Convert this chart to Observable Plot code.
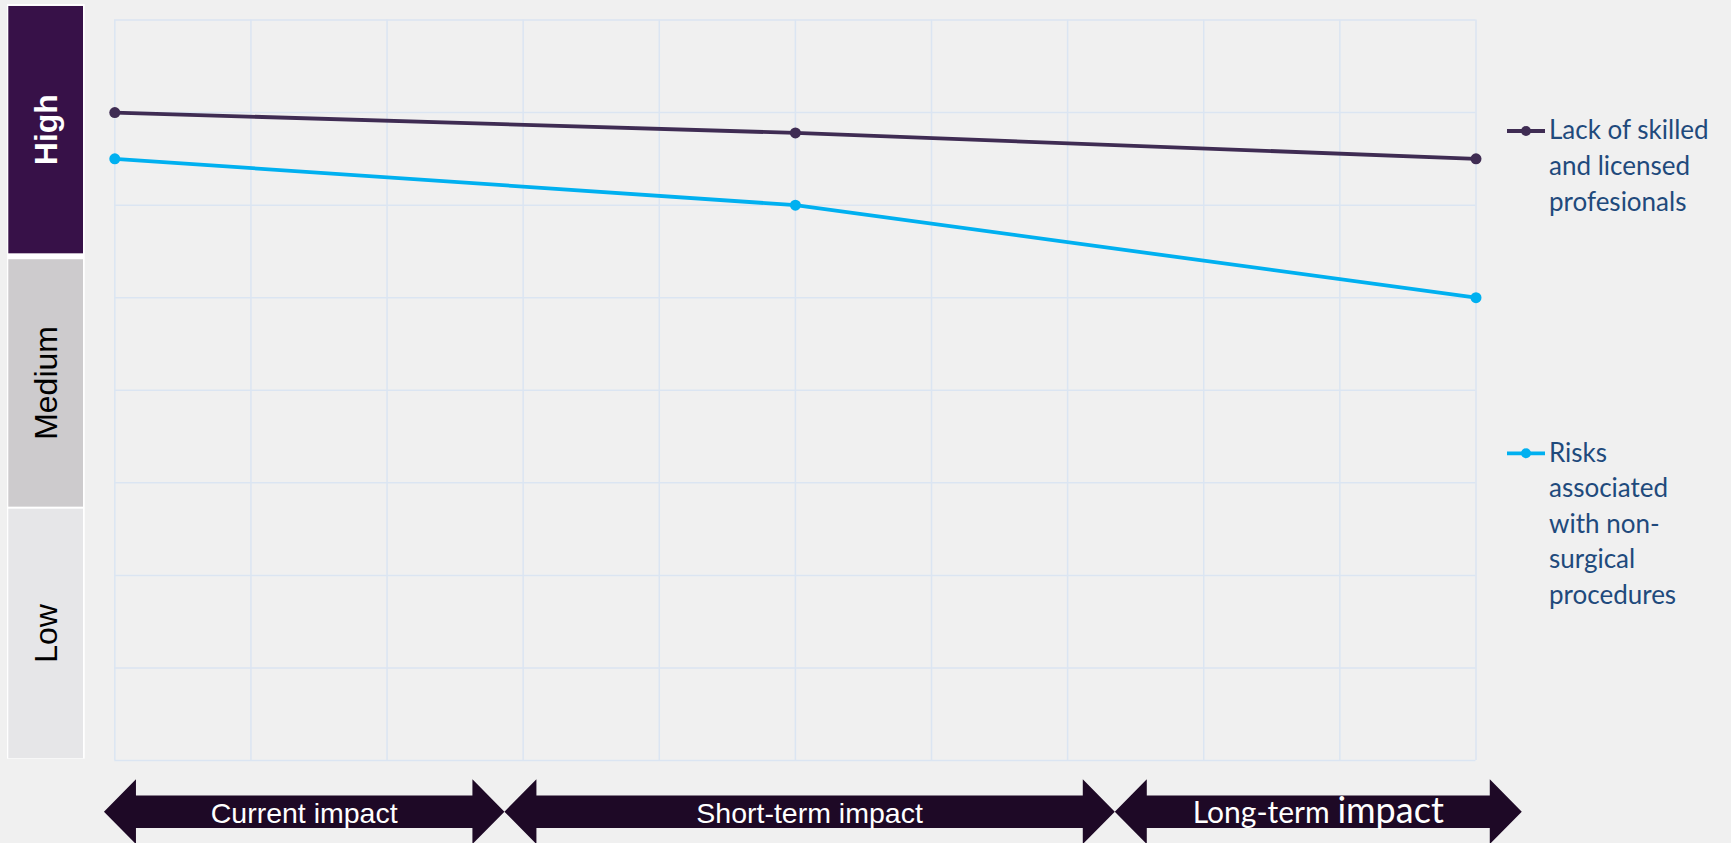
<!DOCTYPE html>
<html><head><meta charset="utf-8">
<script src="https://cdn.jsdelivr.net/npm/d3@7"></script>
<script src="https://cdn.jsdelivr.net/npm/@observablehq/plot@0.6"></script>
<style>html,body{margin:0;padding:0;background:#f0f0f0;overflow:hidden;}</style>
</head><body><div id="chart"></div>
<script>
// ---- data ----
const periods = [0, 5, 10];
const seriesNames = ["Lack of skilled and licensed profesionals", "Risks associated with non-surgical procedures"];
const legendLines = [["Lack of skilled", "and licensed", "profesionals"], ["Risks", "associated", "with non-", "surgical", "procedures"]];
const skilledValues = [7.0, 6.78, 6.5];
const risksValues = [6.5, 6.0, 5.0];
const xTicks = [0, 1, 2, 3, 4, 5, 6, 7, 8, 9, 10];
const yTicks = [0, 1, 2, 3, 4, 5, 6, 7, 8];
const levels = ["Low", "Medium", "High"];
const levelFrom = [0.02, 2.737, 5.474];
const levelTo = [2.715, 5.41, 8.146];
const phases = ["Current impact", "Short-term impact", "Long-term impact"];
const phaseFrom = [-0.076, 2.866, 7.35];
const phaseTo = [2.866, 7.35, 10.34];

// ---- styles ----
const seriesColors = ["#3f2c53", "#00b0f0"];
const levelFills = ["#e6e6e8", "#cdcbcd", "#371148"];
const levelText = ["#000000", "#000000", "#ffffff"];
const gridColor = "#dbe5f2";
const arrowColor = "#1e0926";

const rows = [];
periods.forEach((p, i) => {
  rows.push({x: p, value: skilledValues[i], series: seriesNames[0]});
  rows.push({x: p, value: risksValues[i], series: seriesNames[1]});
});

function levelBoxes(index, scales, values, dims) {
  const g = d3.create("svg:g");
  const x0 = 8.3, x1 = 83;
  g.append("rect").attr("x", x0 - 1.3).attr("width", x1 - x0 + 3)
    .attr("y", scales.y(levelTo[2]) - 2).attr("height", scales.y(levelFrom[0]) - scales.y(levelTo[2]) + 2.5)
    .attr("fill", "#ffffff");
  levels.forEach((lv, i) => {
    const yt = scales.y(levelTo[i]), yb = scales.y(levelFrom[i]);
    g.append("rect").attr("x", x0).attr("width", x1 - x0).attr("y", yt).attr("height", yb - yt).attr("fill", levelFills[i]);
    g.append("text")
      .attr("transform", `translate(${(x0 + x1) / 2},${(yt + yb) / 2}) rotate(-90)`)
      .attr("text-anchor", "middle").attr("dominant-baseline", "central")
      .attr("font-family", "'Liberation Sans', Arial, sans-serif")
      .attr("font-size", 32).attr("font-weight", lv === "High" ? "bold" : "normal")
      .attr("fill", levelText[i]).text(lv);
  });
  return g.node();
}

function phaseArrows(index, scales, values, dims) {
  const g = d3.create("svg:g");
  const cy = dims.height - dims.marginBottom + 51.7;
  const hl = 32, hh = 32.4, sh = 16.3;
  phases.forEach((ph, i) => {
    const a = scales.x(phaseFrom[i]), b = scales.x(phaseTo[i]);
    const pts = [[a, cy], [a + hl, cy - hh], [a + hl, cy - sh], [b - hl, cy - sh], [b - hl, cy - hh], [b, cy],
      [b - hl, cy + hh], [b - hl, cy + sh], [a + hl, cy + sh], [a + hl, cy + hh]];
    g.append("polygon").attr("points", pts.map(p => p.join(",")).join(" ")).attr("fill", arrowColor);
    const t = g.append("text").attr("x", (a + b) / 2).attr("y", cy + 11).attr("text-anchor", "middle").attr("fill", "#ffffff");
    if (ph === "Long-term impact") {
      t.attr("font-family", "Lato, sans-serif");
      t.append("tspan").attr("font-size", 30).text("Long-term ");
      t.append("tspan").attr("font-size", 36).text("impact");
    } else {
      t.attr("font-family", "'Liberation Sans', Arial, sans-serif").attr("font-size", 28.5).text(ph);
    }
  });
  return g.node();
}

function legend(index, scales, values, dims) {
  const g = d3.create("svg:g");
  const markerY = [131, 453.3];
  seriesNames.forEach((s, i) => {
    const my = markerY[i];
    g.append("line").attr("x1", 1507).attr("x2", 1545).attr("y1", my).attr("y2", my)
      .attr("stroke", seriesColors[i]).attr("stroke-width", 3.8);
    g.append("circle").attr("cx", 1526).attr("cy", my).attr("r", 5).attr("fill", seriesColors[i]);
    const t = g.append("text").attr("font-family", "Lato, sans-serif").attr("font-size", 26)
      .attr("text-anchor", "start").attr("fill", "#1f4a7c");
    legendLines[i].forEach((ln, j) => {
      t.append("tspan").attr("x", 1549).attr("y", my + 8.3 + j * 35.6).text(ln);
    });
  });
  return g.node();
}

const chart = Plot.plot({
  width: 1731,
  height: 843,
  marginLeft: 114.3,
  marginRight: 255.5,
  marginTop: 19.5,
  marginBottom: 83,
  style: {background: "#f0f0f0"},
  x: {domain: [0, 10], axis: null},
  y: {domain: [0, 8], axis: null},
  color: {domain: seriesNames, range: seriesColors},
  marks: [
    Plot.ruleX(xTicks, {stroke: gridColor, strokeWidth: 1.5, strokeOpacity: 1}),
    Plot.ruleY(yTicks, {stroke: gridColor, strokeWidth: 1.5, strokeOpacity: 1}),
    levelBoxes,
    Plot.line(rows, {x: "x", y: "value", z: "series", stroke: "series", strokeWidth: 3.8}),
    Plot.dot(rows, {x: "x", y: "value", fill: "series", r: 5.5}),
    phaseArrows,
    legend
  ]
});
document.getElementById("chart").appendChild(chart);
</script>
</body></html>
